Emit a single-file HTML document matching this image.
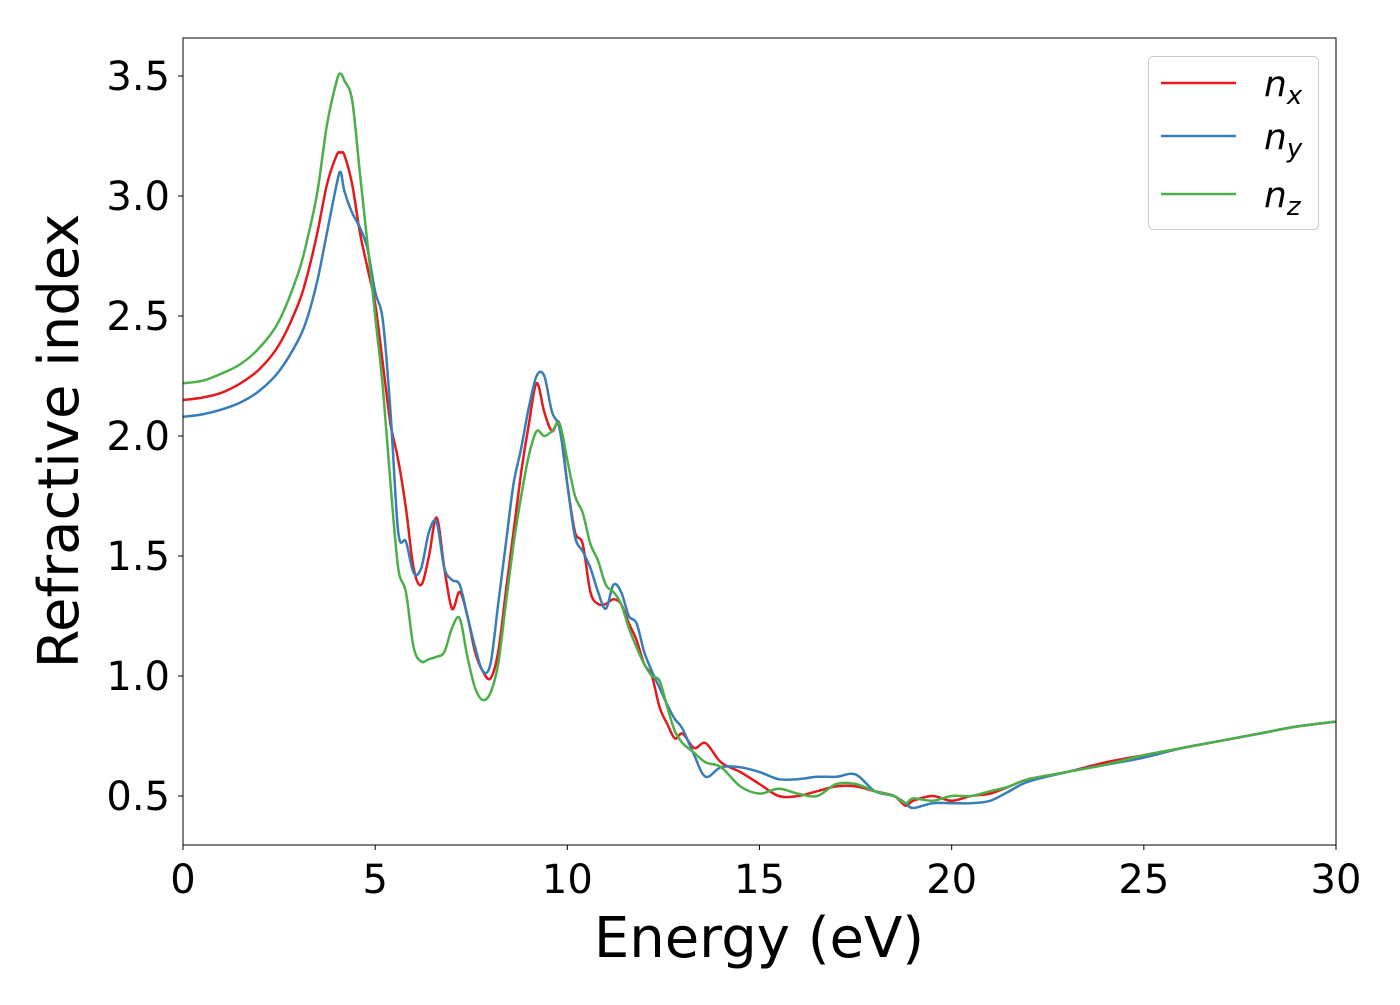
<!DOCTYPE html>
<html><head><meta charset="utf-8"><style>
html,body{margin:0;padding:0;background:#fff;}
svg text{font-family:"DejaVu Sans","Liberation Sans",sans-serif;fill:#000;}
</style></head><body>
<svg id="chart" width="1400" height="1000" xmlns="http://www.w3.org/2000/svg">
<g id="plot"></g>
</svg>
<script>
const energy=[0,0.5,1,1.5,2,2.5,3,3.25,3.5,3.75,4,4.1,4.2,4.4,4.6,4.8,5,5.2,5.4,5.6,5.8,6,6.2,6.4,6.6,6.8,7,7.2,7.4,7.6,7.8,8,8.2,8.4,8.6,8.8,9,9.2,9.4,9.6,9.8,10,10.2,10.4,10.6,10.8,11,11.2,11.4,11.6,11.8,12,12.2,12.4,12.6,12.8,13,13.3,13.6,14,14.5,15,15.5,16,16.5,17,17.5,18,18.5,18.8,19,19.5,20,20.5,21,21.5,22,23,24,25,26,27,28,29,30];
const nx=[2.15,2.16,2.18,2.22,2.28,2.38,2.55,2.68,2.85,3.05,3.17,3.18,3.17,3.05,2.85,2.7,2.55,2.3,2.05,1.9,1.7,1.45,1.38,1.5,1.66,1.45,1.28,1.35,1.25,1.1,1.02,0.99,1.1,1.35,1.6,1.85,2.05,2.22,2.1,2.02,2.05,1.8,1.6,1.55,1.35,1.3,1.3,1.32,1.3,1.22,1.15,1.05,1.0,0.87,0.8,0.74,0.76,0.7,0.72,0.64,0.6,0.55,0.5,0.5,0.52,0.54,0.54,0.52,0.5,0.46,0.48,0.5,0.48,0.5,0.51,0.54,0.57,0.6,0.64,0.67,0.7,0.73,0.76,0.79,0.81];
const ny=[2.08,2.09,2.11,2.14,2.19,2.27,2.4,2.5,2.65,2.85,3.05,3.1,3.02,2.93,2.87,2.78,2.6,2.48,2.1,1.6,1.56,1.43,1.45,1.6,1.64,1.45,1.4,1.38,1.25,1.12,1.02,1.05,1.3,1.55,1.8,1.95,2.12,2.25,2.25,2.1,2.03,1.8,1.58,1.52,1.45,1.35,1.28,1.38,1.35,1.25,1.22,1.1,1.02,0.95,0.88,0.82,0.78,0.67,0.58,0.62,0.62,0.6,0.57,0.57,0.58,0.58,0.59,0.52,0.5,0.47,0.45,0.47,0.47,0.47,0.48,0.52,0.56,0.6,0.63,0.66,0.7,0.73,0.76,0.79,0.81];
const nz=[2.22,2.23,2.26,2.3,2.37,2.48,2.68,2.83,3.02,3.3,3.48,3.51,3.48,3.4,3.1,2.8,2.5,2.2,1.8,1.45,1.35,1.12,1.06,1.07,1.08,1.1,1.2,1.24,1.08,0.95,0.9,0.93,1.05,1.3,1.55,1.75,1.92,2.02,2.0,2.02,2.05,1.9,1.75,1.68,1.55,1.48,1.38,1.35,1.3,1.2,1.12,1.05,1.0,0.98,0.87,0.77,0.72,0.68,0.64,0.62,0.54,0.51,0.53,0.51,0.5,0.55,0.55,0.52,0.5,0.47,0.49,0.48,0.5,0.5,0.52,0.54,0.57,0.6,0.63,0.67,0.7,0.73,0.76,0.79,0.81];
const xTicks=[0,5,10,15,20,25,30];
const yTicks=[0.5,1.0,1.5,2.0,2.5,3.0,3.5];
const seriesNames=["n_x","n_y","n_z"];

const X0=183,X1=1336,Y0=38,Y1=845;
const xMin=0,xMax=30,yMin=0.2958,yMax=3.6583;
function sx(v){return X0+(v-xMin)/(xMax-xMin)*(X1-X0);}
function sy(v){return Y1-(v-yMin)/(yMax-yMin)*(Y1-Y0);}
const NS="http://www.w3.org/2000/svg";
const svg=document.getElementById('chart');
function mk(t,a,p){const e=document.createElementNS(NS,t);for(const k in a)e.setAttribute(k,a[k]);(p||svg).appendChild(e);return e;}

function pathFor(ys){
  const pts=energy.map((e,i)=>[sx(e),sy(ys[i])]);
  let d="M"+pts[0][0].toFixed(1)+","+pts[0][1].toFixed(1);
  for(let i=0;i<pts.length-1;i++){
    const p0=pts[Math.max(0,i-1)],p1=pts[i],p2=pts[i+1],p3=pts[Math.min(pts.length-1,i+2)];
    const c1=[p1[0]+(p2[0]-p0[0])/6,p1[1]+(p2[1]-p0[1])/6];
    const c2=[p2[0]-(p3[0]-p1[0])/6,p2[1]-(p3[1]-p1[1])/6];
    d+="C"+c1[0].toFixed(1)+","+c1[1].toFixed(1)+" "+c2[0].toFixed(1)+","+c2[1].toFixed(1)+" "+p2[0].toFixed(1)+","+p2[1].toFixed(1);
  }
  return d;
}
const plot=document.getElementById('plot');
const clip=mk('clipPath',{id:'clp'});
mk('rect',{x:X0,y:Y0,width:X1-X0,height:Y1-Y0},clip);
const lineG=mk('g',{'clip-path':'url(#clp)'},plot);
const data=[nx,ny,nz],cols=["#e41a1c","#377eb8","#4daf4a"],names=["line-nx","line-ny","line-nz"];
for(let s=0;s<3;s++){
  const p=mk('path',{d:pathFor(data[s]),fill:'none',stroke:cols[s],'stroke-width':2.5,'stroke-linejoin':'round'},lineG);
  
  
}
const frame=mk('rect',{x:X0,y:Y0,width:X1-X0,height:Y1-Y0,fill:'none',stroke:'#000','stroke-width':1});


xTicks.forEach(v=>{
  const t=mk('line',{x1:sx(v),x2:sx(v),y1:Y1,y2:Y1+5,stroke:'#000','stroke-width':1});
  
  
  const l=mk('text',{x:sx(v),y:893,'text-anchor':'middle','font-size':40});
  l.textContent=v;
  
  
});
yTicks.forEach(v=>{
  const t=mk('line',{x1:X0-5,x2:X0,y1:sy(v),y2:sy(v),stroke:'#000','stroke-width':1});
  
  
  const l=mk('text',{x:170,y:sy(v)+14,'text-anchor':'end','font-size':40});
  l.textContent=v.toFixed(1);
  
  
});
const xt=mk('text',{x:759,y:957,'text-anchor':'middle','font-size':56});
xt.textContent="Energy (eV)";


const yt=mk('text',{x:78,y:441,'text-anchor':'middle','font-size':56,transform:'rotate(-90 78 441)'});
yt.textContent="Refractive index";


const lg=mk('g',{});


mk('rect',{x:1148.5,y:56.5,width:170,height:173,rx:5,fill:'#fff',stroke:'#ccc','stroke-width':1},lg);
const ly=[83,136,194],subs=["x","y","z"];
for(let s=0;s<3;s++){
  const e=mk('g',{},lg);
  
  
  mk('line',{x1:1161,x2:1236,y1:ly[s],y2:ly[s],stroke:cols[s],'stroke-width':2.5},e);
  const t=mk('text',{x:1264,y:ly[s]+13,'font-size':36,'font-style':'italic'},e);
  t.textContent="n";
  const sb=mk('tspan',{'font-size':26,dy:8},t);
  sb.textContent=subs[s];
}
</script>
</body></html>
